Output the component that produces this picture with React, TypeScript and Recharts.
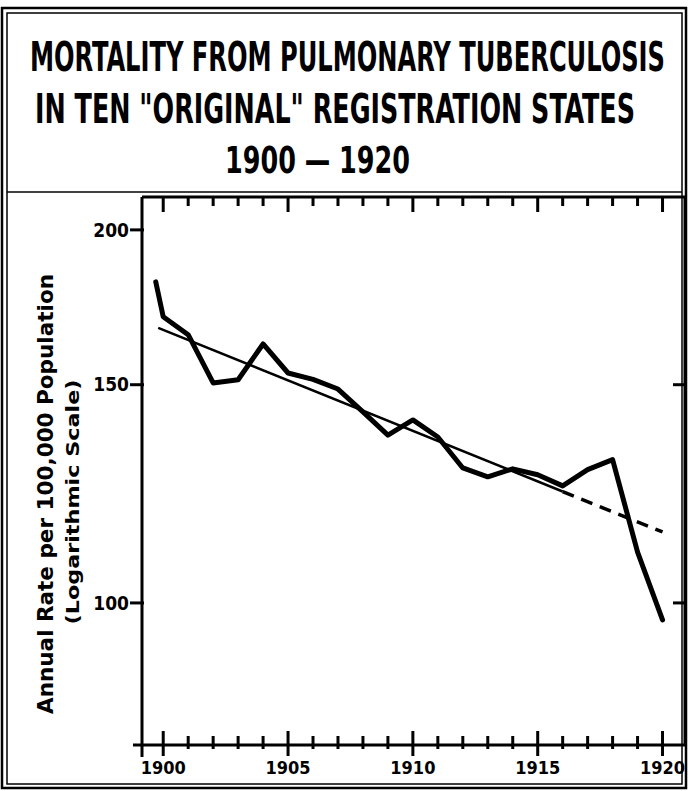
import React from 'react';
import { LineChart, Line, XAxis, YAxis } from 'recharts';

// annual rate per 100,000
const years = [1899.7, 1900, 1901, 1902, 1903, 1904, 1905, 1906, 1907, 1908, 1909, 1910,
    1911, 1912, 1913, 1914, 1915, 1916, 1917, 1918, 1919, 1920];
const rates = [181.6, 170.2, 164.6, 150.5, 151.4, 161.8, 153.3, 151.5, 148.8, 142.6, 136.6, 140.5,
    136.1, 128.5, 126.4, 128.3, 126.9, 124.3, 128.1, 130.5, 109.9, 96.9];

// fitted trend: solid to 1916, dashed projection after
const trendYears = [1899.8, 1916, 1920];
const trendRates = [166.7, 123.0, 114.1];

const yearTicks = [1900, 1901, 1902, 1903, 1904, 1905, 1906, 1907, 1908, 1909, 1910,
    1911, 1912, 1913, 1914, 1915, 1916, 1917, 1918, 1919, 1920];
const rateTicks = [100, 150, 200];
const rightTicks = [100, 150];

const rateData = years.map((year, i) => ({ year, rate: rates[i] }));
const trendSolid = trendYears.slice(0, 2).map((year, i) => ({ year, rate: trendRates[i] }));
const trendDashed = trendYears.slice(1).map((year, i) => ({ year, rate: trendRates[i + 1] }));

const FONT = '"DejaVu Sans Condensed", "DejaVu Sans", sans-serif';
const xDomain = [1899.15, 1920.9];
const yDomain = [76.8, 212.6];

const BottomTick = (props: any) => {
    const { x, y, payload } = props;
    const major = payload.value % 5 === 0;
    return (
        <g>
            <line x1={x} x2={x} y1={y - (major ? 14 : 9)} y2={y + (major ? 11 : 4)} stroke="#000" strokeWidth={3} />
            {major && (
                <text x={x} y={y + 29} textAnchor="middle" fontFamily={FONT} fontWeight="bold" fontSize={18} fill="#000">
                    {payload.value}
                </text>
            )}
        </g>
    );
};

// top ticks hang down into the plot
const TopTick = (props: any) => {
    const { x, y, payload } = props;
    const major = payload.value % 5 === 0;
    return <rect x={Number(x) - 1.5} y={Number(y)} width={3} height={major ? 15 : 9} fill="#000" />;
};

const LeftTick = (props: any) => {
    const { x, y, payload } = props;
    return (
        <g>
            <line x1={x - 12} x2={x + 2} y1={y} y2={y} stroke="#000" strokeWidth={3} />
            <text x={x - 13} y={y} dy="0.35em" textAnchor="end" fontFamily={FONT} fontWeight="bold" fontSize={19} fill="#000">
                {payload.value}
            </text>
        </g>
    );
};

const RightTick = (props: any) => {
    const { x, y } = props;
    return <line x1={x - 12} x2={x} y1={y} y2={y} stroke="#000" strokeWidth={3} />;
};

const Frame = () => (
    <svg width={688} height={791} style={{ position: 'absolute', left: 0, top: 0, pointerEvents: 'none' }}>
        <rect x={2} y={8} width={684} height={780} fill="none" stroke="#000" strokeWidth={2.5} />
        <rect x={7} y={13} width={675} height={771} fill="none" stroke="#000" strokeWidth={1.5} />
        <line x1={7} x2={682} y1={192} y2={192} stroke="#000" strokeWidth={1.5} />
        <line x1={133} x2={143} y1={745} y2={745} stroke="#000" strokeWidth={3} />
        <line x1={142} x2={142} y1={744} y2={757} stroke="#000" strokeWidth={3} />
        <g fontFamily={FONT} fontWeight="bold" fill="#000">
            <text transform="translate(30, 71) scale(1, 1.6)" fontSize={25} textLength={635} lengthAdjust="spacingAndGlyphs">
                MORTALITY FROM PULMONARY TUBERCULOSIS
            </text>
            <text transform="translate(35, 123) scale(1, 1.6)" fontSize={25} textLength={600} lengthAdjust="spacingAndGlyphs">
                IN TEN "ORIGINAL" REGISTRATION STATES
            </text>
            <text transform="translate(225, 173) scale(1, 1.4)" fontSize={26} textLength={185} lengthAdjust="spacingAndGlyphs">
                1900 — 1920
            </text>
            <text transform="translate(53, 494) rotate(-90)" textAnchor="middle" fontSize={21} textLength={440} lengthAdjust="spacingAndGlyphs">
                Annual Rate per 100,000 Population
            </text>
            <text transform="translate(79, 502) rotate(-90)" textAnchor="middle" fontSize={17} textLength={245} lengthAdjust="spacingAndGlyphs">
                (Logarithmic Scale)
            </text>
        </g>
    </svg>
);

const App = () => {
    return (
        <div style={{ position: 'absolute', left: 0, top: 0, width: 688, height: 791, background: '#fff' }}>
            <LineChart width={688} height={791} margin={{ top: 0, right: 0, bottom: 0, left: 0 }}>
                <XAxis
                    xAxisId="bottom"
                    dataKey="year"
                    type="number"
                    domain={xDomain}
                    allowDataOverflow
                    ticks={yearTicks}
                    interval={0}
                    height={46}
                    tickSize={0}
                    tickMargin={0}
                    tickLine={false}
                    tick={<BottomTick />}
                    axisLine={{ stroke: '#000', strokeWidth: 3 }}
                />
                <XAxis
                    xAxisId="top"
                    orientation="top"
                    dataKey="year"
                    type="number"
                    domain={xDomain}
                    allowDataOverflow
                    ticks={yearTicks}
                    interval={0}
                    height={197}
                    tickSize={0}
                    tickMargin={0}
                    tickLine={false}
                    tick={<TopTick />}
                    axisLine={{ stroke: '#000', strokeWidth: 3 }}
                />
                <YAxis
                    yAxisId="left"
                    scale="log"
                    type="number"
                    domain={yDomain}
                    allowDataOverflow
                    ticks={rateTicks}
                    interval={0}
                    width={142}
                    tickSize={0}
                    tickMargin={0}
                    tickLine={false}
                    tick={<LeftTick />}
                    axisLine={{ stroke: '#000', strokeWidth: 3 }}
                />
                <YAxis
                    yAxisId="right"
                    orientation="right"
                    scale="log"
                    type="number"
                    domain={yDomain}
                    allowDataOverflow
                    ticks={rightTicks}
                    interval={0}
                    width={3}
                    tickSize={0}
                    tickMargin={0}
                    tickLine={false}
                    tick={<RightTick />}
                    axisLine={{ stroke: '#000', strokeWidth: 3 }}
                />
                <Line
                    xAxisId="bottom"
                    yAxisId="left"
                    data={trendSolid}
                    dataKey="rate"
                    type="linear"
                    stroke="#000"
                    strokeWidth={2.5}
                    dot={false}
                    isAnimationActive={false}
                />
                <Line
                    xAxisId="bottom"
                    yAxisId="left"
                    data={trendDashed}
                    dataKey="rate"
                    type="linear"
                    stroke="#000"
                    strokeWidth={3.5}
                    strokeDasharray="12 8"
                    dot={false}
                    isAnimationActive={false}
                />
                <Line
                    xAxisId="bottom"
                    yAxisId="left"
                    data={rateData}
                    dataKey="rate"
                    type="linear"
                    stroke="#000"
                    strokeWidth={5}
                    strokeLinejoin="round"
                    strokeLinecap="round"
                    dot={false}
                    isAnimationActive={false}
                />
            </LineChart>
            <Frame />
        </div>
    );
};

export default App;
